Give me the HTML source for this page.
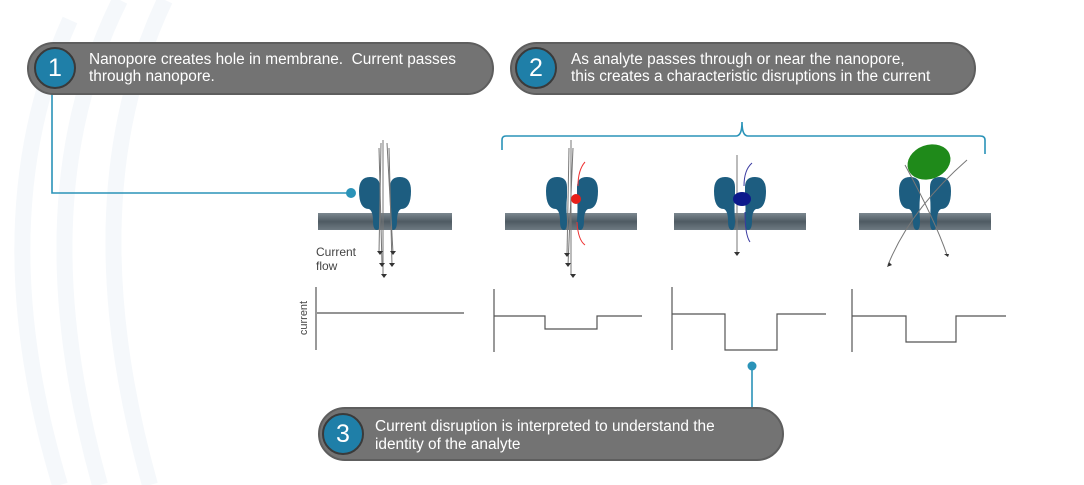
<!DOCTYPE html>
<html><head><meta charset="utf-8"><style>
html,body{margin:0;padding:0;background:#fff;}
body{width:1084px;height:485px;overflow:hidden;position:relative;font-family:"Liberation Sans",Arial,sans-serif;}
.pill{position:absolute;background:#737373;border-radius:27px;border:2px solid #5e5e5e;box-sizing:border-box;}
.num{position:absolute;width:42px;height:42px;border-radius:50%;background:#1f7fa8;border:2px solid #3a3a3a;box-sizing:border-box;color:#fff;font-size:25px;text-align:center;line-height:38px;}
.txt{position:absolute;color:#fff;font-size:15.4px;line-height:17px;white-space:nowrap;}
</style></head><body>
<svg width="1084" height="485" style="position:absolute;left:0;top:0">
<g fill="none" stroke="#f5f8fb" stroke-width="16">
<path d="M165 0 Q70 200 150 485"/>
<path d="M120 0 Q20 200 100 485"/>
<path d="M70 20 Q-20 220 60 485"/>
</g>
<g stroke="#2a93b8" stroke-width="1.6" fill="none">
<path d="M52 94 V193 H350"/>
<path d="M502 150 V140 Q502 136 506 136 H736 Q742 136 742 122 Q742 136 748 136 H980 Q985 136 985 140 V154"/>
<path d="M752 366 V407"/>
</g>
<circle cx="351" cy="193" r="5" fill="#2a93b8"/>
<circle cx="752" cy="366" r="4.5" fill="#2a93b8"/>
<defs><linearGradient id="m" x1="0" y1="0" x2="0" y2="1"><stop offset="0" stop-color="#7c8890"/><stop offset="0.5" stop-color="#4f5b63"/><stop offset="1" stop-color="#6e7a82"/></linearGradient>
<g id="pore" fill="#1d5d80">
<path d="M5 -12 Q5 -22 15 -22 Q26 -22 26 -8 Q26 10 16 10 Q12 12 12 22 Q12 31 8 31 Q5 31 5 22 Q6 8 5 -2 Z"/>
<path d="M-5 -12 Q-5 -22 -15 -22 Q-26 -22 -26 -8 Q-26 10 -16 10 Q-12 12 -12 22 Q-12 31 -8 31 Q-5 31 -5 22 Q-6 8 -5 -2 Z"/>
</g></defs>
<rect x="318" y="213" width="134" height="17" fill="url(#m)"/>
<rect x="505" y="213" width="132" height="17" fill="url(#m)"/>
<rect x="674" y="213" width="132" height="17" fill="url(#m)"/>
<rect x="859" y="213" width="132" height="17" fill="url(#m)"/>
<use href="#pore" x="385" y="199"/>
<use href="#pore" x="572" y="199"/>
<use href="#pore" x="740" y="199"/>
<use href="#pore" x="925" y="199"/>
<g stroke="#777" stroke-width="1" fill="none">
<path d="M383 140 V275"/><path d="M381 143 L379 253"/><path d="M387 143 L393 253"/><path d="M379 148 L382 265"/><path d="M389 148 L392 265"/>
<path d="M571 140 V275"/><path d="M569 148 L567 255"/><path d="M573 148 L568 265"/>
<path d="M737 155 V253"/>
<path d="M905 165 Q935 220 947 255"/><path d="M967 160 Q910 210 888 265"/>
</g>
<g fill="#333"><path d="M380 255 l-3 -4 h6z M393 255 l-3 -4 h6z M382 267 l-3 -4 h6z M392 267 l-3 -4 h6z M384 278 l-3 -4 h6z M567 257 l-3 -4 h6z M568 267 l-3 -4 h6z M573 278 l-3 -4 h6z M737 256 l-3 -4 h6z M948 257 l-4 -3 h5z M887 267 l2 -5 3 3z"/></g>
<path d="M585 162 Q578 170 578 186" stroke="#e33" fill="none"/>
<path d="M577 222 Q578 240 585 245" stroke="#e33" fill="none"/>
<ellipse cx="576" cy="199" rx="5" ry="5" fill="#e8201a"/>
<path d="M752 163 Q744 170 744 186" stroke="#3a3aa0" fill="none"/>
<path d="M745 212 Q745 235 750 242" stroke="#3a3aa0" fill="none"/>
<ellipse cx="742" cy="199" rx="9" ry="7" fill="#0c1a8c"/>
<ellipse cx="929" cy="162" rx="22" ry="17" transform="rotate(-20 929 162)" fill="#1f8a1a"/>
<g stroke="#555" stroke-width="1.2" fill="none">
<path d="M316 287 V350"/><path d="M317 313 H464"/>
<path d="M494 289 V352"/><path d="M494 316 H545 V329 H597 V316 H642"/>
<path d="M672 287 V350"/><path d="M672 314 H725 V350 H777 V314 H826"/>
<path d="M852 289 V352"/><path d="M852 316 H906 V342 H956 V316 H1006"/>
</g>
<text x="307" y="318" font-size="11" fill="#444" transform="rotate(-90 307 318)" text-anchor="middle" font-family="Liberation Sans">current</text>
<text x="316" y="256" font-size="12" fill="#444" font-family="Liberation Sans">Current</text>
<text x="316" y="270" font-size="12" fill="#444" font-family="Liberation Sans">flow</text>
</svg>
<div class="pill" style="left:27px;top:42px;width:467px;height:53px"></div>
<div class="num" style="left:34px;top:47px">1</div>
<div class="txt" style="left:89px;top:51px">Nanopore creates hole in membrane.&nbsp; Current passes<br>through nanopore.</div>
<div class="pill" style="left:510px;top:42px;width:466px;height:53px"></div>
<div class="num" style="left:515px;top:47px">2</div>
<div class="txt" style="left:571px;top:51px">As analyte passes through or near the nanopore,<br>this creates a characteristic disruptions in the current</div>
<div class="pill" style="left:318px;top:407px;width:466px;height:54px"></div>
<div class="num" style="left:322px;top:413px">3</div>
<div class="txt" style="left:375px;top:418px;line-height:18px">Current disruption is interpreted to understand the<br>identity of the analyte</div>
</body></html>
